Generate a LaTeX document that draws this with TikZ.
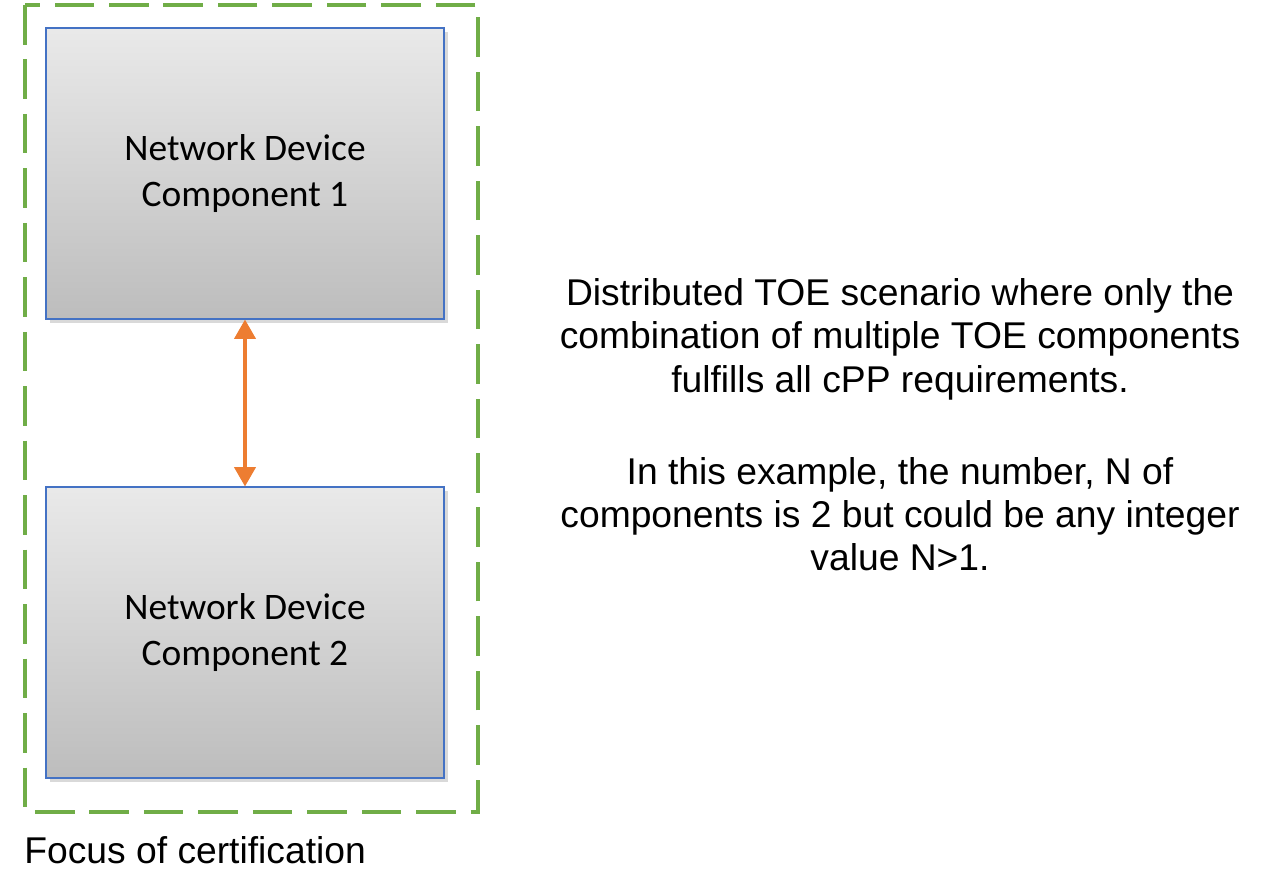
\documentclass[tikz,border=0pt]{standalone}
\usepackage{fontspec}
\setmainfont{Liberation Sans}
\newfontfamily\boxfont{Carlito}
\usetikzlibrary{arrows.meta,shadows}
\definecolor{focusgreen}{HTML}{70AD47}
\definecolor{boxblue}{HTML}{4472C4}
\definecolor{linkorange}{HTML}{ED7D31}
\tikzset{
  devbox/.style={draw=boxblue,line width=0.6pt,minimum width=398*0.02cm,minimum height=291*0.02cm,
    top color=gray!17,bottom color=gray!52,
    drop shadow={shadow xshift=2.5pt,shadow yshift=-2.5pt,opacity=0.3,fill=gray},
    font=\boxfont\fontsize{21.3}{25.8}\selectfont,align=center},
  focusbox/.style={draw=focusgreen,line width=2.3pt,dash pattern=on 22.5pt off 8.5pt},
  link/.style={linkorange,line width=2pt,{Triangle[length=11pt,width=12pt]}-{Triangle[length=11pt,width=12pt]}}
}
\begin{document}
\begin{tikzpicture}[x=0.02cm,y=-0.02cm]
	\useasboundingbox (0,0) rectangle (1277,893);
	\draw[focusbox](25,5)rectangle(478,812);
	\node[devbox] (comp1) at(245,173.5){Network Device\\Component 1};
	\node[devbox] (comp2) at(245,632.5){Network Device\\Component 2};
	\draw[link](comp1.south)--(comp2.north);
	\node[anchor=west,inner sep=0pt,font=\fontsize{21.2}{24}\selectfont] (focus) at(24,850){Focus of certification};
	\node[align=center,font=\fontsize{21.2}{24.6}\selectfont] (scenario) at(900,425){Distributed TOE scenario where only the\\combination of multiple TOE components\\fulfills all cPP requirements.\\[28pt]In this example, the number, N of\\components is 2 but could be any integer\\value N>1.};
\end{tikzpicture}
\end{document}
